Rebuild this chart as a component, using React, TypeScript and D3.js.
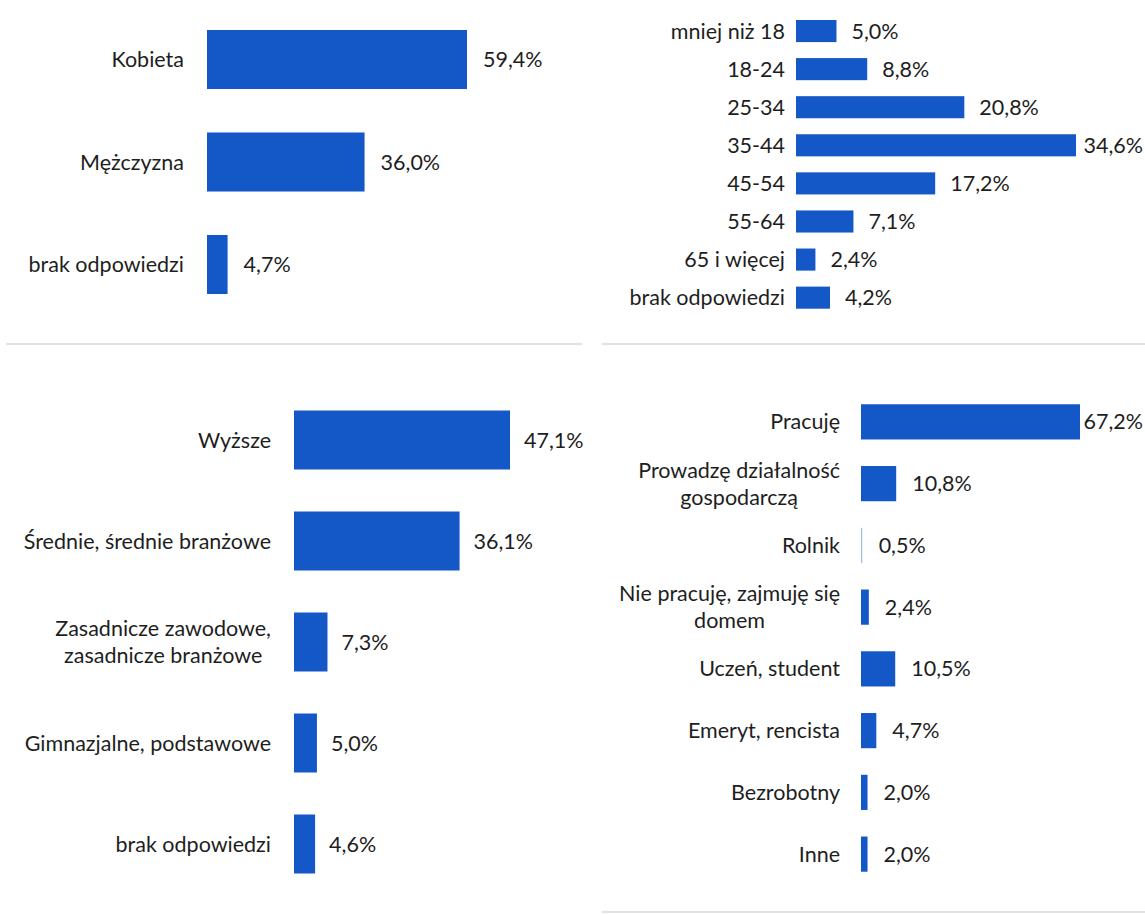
import React from "react";
import * as d3 from "d3";

// ---------- DATA ----------
const genderCats = ["Kobieta", "Mężczyzna", "brak odpowiedzi"];
const genderVals = [59.4, 36.0, 4.7];

const ageCats = ["mniej niż 18", "18-24", "25-34", "35-44", "45-54", "55-64", "65 i więcej", "brak odpowiedzi"];
const ageVals = [5.0, 8.8, 20.8, 34.6, 17.2, 7.1, 2.4, 4.2];

const eduCats = ["Wyższe", "Średnie, średnie branżowe", "Zasadnicze zawodowe,\nzasadnicze branżowe", "Gimnazjalne, podstawowe", "brak odpowiedzi"];
const eduVals = [47.1, 36.1, 7.3, 5.0, 4.6];

const jobCats = ["Pracuję", "Prowadzę działalność\ngospodarczą", "Rolnik", "Nie pracuję, zajmuję się\ndomem", "Uczeń, student", "Emeryt, rencista", "Bezrobotny", "Inne"];
const jobVals = [67.2, 10.8, 0.5, 2.4, 10.5, 4.7, 2.0, 2.0];

// ---------- LAYOUT ----------
const W = 1145;
const H = 915;
const BLUE = "#1457c6";
const TEXT = "#1e1e1e";
const FONT = "Lato, 'Open Sans', sans-serif";
const FS = 21.5;

type PanelCfg = {
  cats: string[];
  vals: number[];
  x0: number;
  x1: number;
  y0: number;
  y1: number;
  padding: number;
  labelRight: number;
  valueGap: number;
};

const panels: PanelCfg[] = [
  { cats: genderCats, vals: genderVals, x0: 207, x1: 467, y0: 8.25, y1: 315.75, padding: 0.424, labelRight: 184, valueGap: 16 },
  { cats: ageCats, vals: ageVals, x0: 796, x1: 1076, y0: 12, y1: 316.7, padding: 0.42, labelRight: 785, valueGap: 15 },
  { cats: eduCats, vals: eduVals, x0: 294, x1: 510, y0: 389.5, y1: 894.5, padding: 0.416, labelRight: 271, valueGap: 14 },
  { cats: jobCats, vals: jobVals, x0: 861, x1: 1080, y0: 391, y1: 885, padding: 0.43, labelRight: 840, valueGap: 16 },
];

const fmt = (v: number) => v.toFixed(1).replace(".", ",") + "%";

function MultiLabel({ lines, right, cy, lineH }: { lines: string[]; right: number; cy: number; lineH: number }) {
  const ref = React.useRef<SVGGElement>(null);
  const [shift, setShift] = React.useState(0);
  React.useLayoutEffect(() => {
    if (!ref.current) return;
    const bb = ref.current.getBBox();
    setShift(right - (bb.x + bb.width));
  }, [right]);
  const n = lines.length;
  return (
    <g ref={ref} transform={`translate(${shift},0)`}>
      {lines.map((l, j) => (
        <text key={j} x={0} y={cy + (j - (n - 1) / 2) * lineH} dy="0.35em" textAnchor="middle">
          {l}
        </text>
      ))}
    </g>
  );
}

function Panel({ cfg }: { cfg: PanelCfg }) {
  const maxV = d3.max(cfg.vals) as number;
  const x = d3.scaleLinear().domain([0, maxV]).range([cfg.x0, cfg.x1]);
  const y = d3
    .scaleBand<string>()
    .domain(cfg.cats)
    .range([cfg.y0, cfg.y1])
    .paddingInner(cfg.padding)
    .paddingOuter(cfg.padding / 2);
  const lineH = 27;
  return (
    <g>
      {cfg.cats.map((c, i) => {
        const v = cfg.vals[i];
        const by = y(c) as number;
        const bh = y.bandwidth();
        const cy = by + bh / 2;
        const lines = c.split("\n");
        const wBar = x(v) - x(0);
        const thin = wBar < 2;
        const labelEls =
          lines.length === 1 ? (
            <text x={cfg.labelRight} y={cy} dy="0.35em" textAnchor="end">
              {c}
            </text>
          ) : (
            <MultiLabel lines={lines} right={cfg.labelRight} cy={cy} lineH={lineH} />
          );
        const estW = fmt(v).length * FS * 0.6;
        const overflow = x(v) + cfg.valueGap + estW > W - 2;
        return (
          <g key={c}>
            {labelEls}
            <rect
              x={x(0)}
              y={by}
              width={thin ? 1.2 : wBar}
              height={bh}
              fill={thin ? "#9bbbe8" : BLUE}
            />
            <text
              x={overflow ? W - 2 : x(v) + cfg.valueGap}
              y={cy}
              dy="0.35em"
              textAnchor={overflow ? "end" : "start"}
            >
              {fmt(v)}
            </text>
          </g>
        );
      })}
    </g>
  );
}

export default function App() {
  return (
    <svg
      width={W}
      height={H}
      style={{ position: "absolute", left: 0, top: 0, background: "#fff" }}
      fontFamily={FONT}
      fontSize={FS}
      fill={TEXT}
    >
      <rect x={0} y={0} width={W} height={H} fill="#ffffff" />
      {/* panel divider lines */}
      <line x1={6} x2={582} y1={344} y2={344} stroke="#e2e2e2" strokeWidth={2} />
      <line x1={602} x2={W} y1={344} y2={344} stroke="#e2e2e2" strokeWidth={2} />
      <line x1={602} x2={W} y1={912} y2={912} stroke="#e2e2e2" strokeWidth={2} />
      {panels.map((p, i) => (
        <Panel key={i} cfg={p} />
      ))}
    </svg>
  );
}
